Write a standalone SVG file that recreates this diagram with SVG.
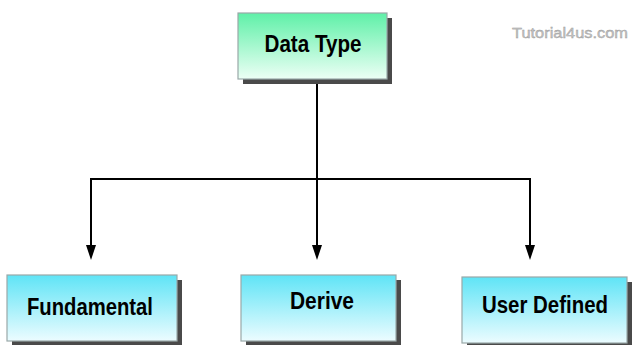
<svg xmlns="http://www.w3.org/2000/svg" width="634" height="345" viewBox="0 0 634 345">
<defs>
<linearGradient id="gGreen" x1="0" y1="0" x2="0" y2="1">
<stop offset="0" stop-color="#5ff0a8"/>
<stop offset="1" stop-color="#ecfff5"/>
</linearGradient>
<linearGradient id="gBlue" x1="0" y1="0" x2="0" y2="1">
<stop offset="0" stop-color="#5fe4f6"/>
<stop offset="1" stop-color="#ecfcff"/>
</linearGradient>
</defs>
<style>
.shadow{fill:#4a4a4a}
.box{stroke:#9aa8a8;stroke-width:1.2}
.lbl{font-family:"Liberation Sans",Arial,sans-serif;font-weight:bold;font-size:24px;fill:#000;text-anchor:middle}
.conn{fill:none;stroke:#000;stroke-width:2}
.head{fill:#000}
.wm{font-family:"Liberation Sans",Arial,sans-serif;font-size:15px;fill:#c4c4c4;stroke:#9a9a9a;stroke-width:0.4}
</style>
<rect width="634" height="345" fill="#fff"/>
<text class="wm" x="512" y="38" textLength="116" lengthAdjust="spacingAndGlyphs">Tutorial4us.com</text>
<g id="connectors">
<path class="conn" d="M317,80 V246"/>
<path class="conn" d="M91,246 V179 H530 V246"/>
<path class="head" d="M86,245 L96,245 L91,260 Z"/>
<path class="head" d="M312,245 L322,245 L317,260 Z"/>
<path class="head" d="M525,245 L535,245 L530,260 Z"/>
</g>
<g id="data-type">
<rect class="shadow" x="243" y="18" width="149" height="66"/>
<rect class="box" x="238" y="13" width="149" height="66" fill="url(#gGreen)"/>
<text class="lbl" x="313" y="52" textLength="97" lengthAdjust="spacingAndGlyphs">Data Type</text>
</g>
<g id="fundamental">
<rect class="shadow" x="12" y="280" width="170" height="66"/>
<rect class="box" x="7" y="275" width="170" height="66" fill="url(#gBlue)"/>
<text class="lbl" x="90" y="315" textLength="126" lengthAdjust="spacingAndGlyphs">Fundamental</text>
</g>
<g id="derive">
<rect class="shadow" x="246" y="280" width="155" height="66"/>
<rect class="box" x="241" y="275" width="155" height="66" fill="url(#gBlue)"/>
<text class="lbl" x="322" y="309" textLength="64" lengthAdjust="spacingAndGlyphs">Derive</text>
</g>
<g id="user-defined">
<rect class="shadow" x="467" y="282" width="165" height="66"/>
<rect class="box" x="462" y="277" width="165" height="66" fill="url(#gBlue)"/>
<text class="lbl" x="545" y="313" textLength="126" lengthAdjust="spacingAndGlyphs">User Defined</text>
</g>
</svg>
